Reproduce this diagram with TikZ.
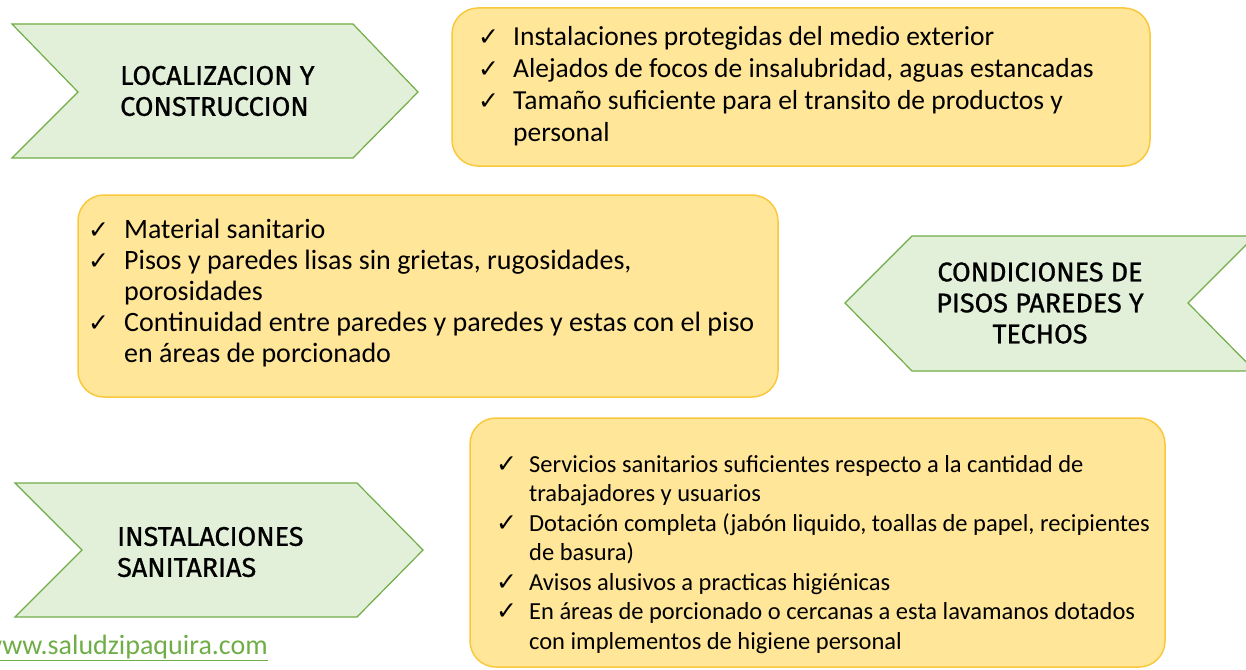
\documentclass[tikz,border=0pt]{standalone}
\usepackage{fontspec}
\setmainfont{Carlito}
\newfontfamily\headfont[FakeBold=0.9]{Fira Sans}
\newfontfamily\symfont{DejaVu Sans}
\definecolor{chevfill}{RGB}{226,239,217}
\definecolor{chevline}{RGB}{112,173,71}
\definecolor{boxfill}{RGB}{255,230,153}
\definecolor{boxline}{RGB}{250,200,60}
\newcommand{\chk}{{\symfont\fontsize{25}{25}\selectfont ✓}}
\tikzset{
  chev/.style={fill=chevfill, draw=chevline, line width=1.2pt},
  ybox/.style={fill=boxfill, draw=boxline, line width=1.5pt, rounded corners=26pt},
  head/.style={font=\headfont\fontsize{27}{31}\selectfont, inner sep=0pt},
  items/.style={anchor=west, align=left, inner sep=0pt},
}
\begin{document}
\begin{tikzpicture}[x=1pt, y=-1pt]
  \clip (0,0) rectangle (1246,669);

  % chevrons
  \draw[chev] (12,24) -- (353,24) -- (418,92) -- (353,158) -- (12,158) -- (78,92) -- cycle;
  \draw[chev] (845,303) -- (912,236) -- (1255,236) -- (1188,303) -- (1255,371) -- (912,371) -- cycle;
  \draw[chev] (15,483) -- (357,483) -- (423,550) -- (357,617) -- (15,617) -- (82,550) -- cycle;

  \node[head, anchor=west, align=left] (loc) at (120,91) {LOCALIZACION Y\\CONSTRUCCION};
  \node[head, align=center] (cond) at (1040,303) {CONDICIONES DE\\PISOS PAREDES Y\\TECHOS};
  \node[head, anchor=west, align=left] (inst) at (117,552) {INSTALACIONES\\SANITARIAS};

  % yellow boxes
  \draw[ybox] (452,8) rectangle (1150,166);
  \draw[ybox] (78,195) rectangle (778,397);
  \draw[ybox] (470,418) rectangle (1165,667);

  \node[items, font=\fontsize{27.5}{32}\selectfont] (t1) at (478,87) {%
    \begin{tabular}{@{}l@{\hspace{14pt}}l@{}}
      \chk & Instalaciones protegidas del medio exterior\\
      \chk & Alejados de focos de insalubridad, aguas estancadas\\
      \chk & Tamaño suficiente para el transito de productos y\\
           & personal
    \end{tabular}};

  \node[items, font=\fontsize{28}{31}\selectfont] (t2) at (88,294) {%
    \begin{tabular}{@{}l@{\hspace{15pt}}l@{}}
      \chk & Material sanitario\\
      \chk & Pisos y paredes lisas sin grietas, rugosidades,\\
           & porosidades\\
      \chk & Continuidad entre paredes y paredes y estas con el piso\\
           & en áreas de porcionado
    \end{tabular}};

  \node[items, font=\fontsize{24.5}{29.5}\selectfont] (t3) at (496,555) {%
    \begin{tabular}{@{}l@{\hspace{12pt}}l@{}}
      \chk & Servicios sanitarios suficientes respecto a la cantidad de\\
           & trabajadores y usuarios\\
      \chk & Dotación completa (jabón liquido, toallas de papel, recipientes\\
           & de basura)\\
      \chk & Avisos alusivos a practicas higiénicas\\
      \chk & En áreas de porcionado o cercanas a esta lavamanos dotados\\
           & con implementos de higiene personal
    \end{tabular}};

  \node[anchor=east, inner sep=0pt, text=chevline, font=\fontsize{28}{32}\selectfont] (web) at (268,648) {\underline{www.saludzipaquira.com}};
\end{tikzpicture}
\end{document}
